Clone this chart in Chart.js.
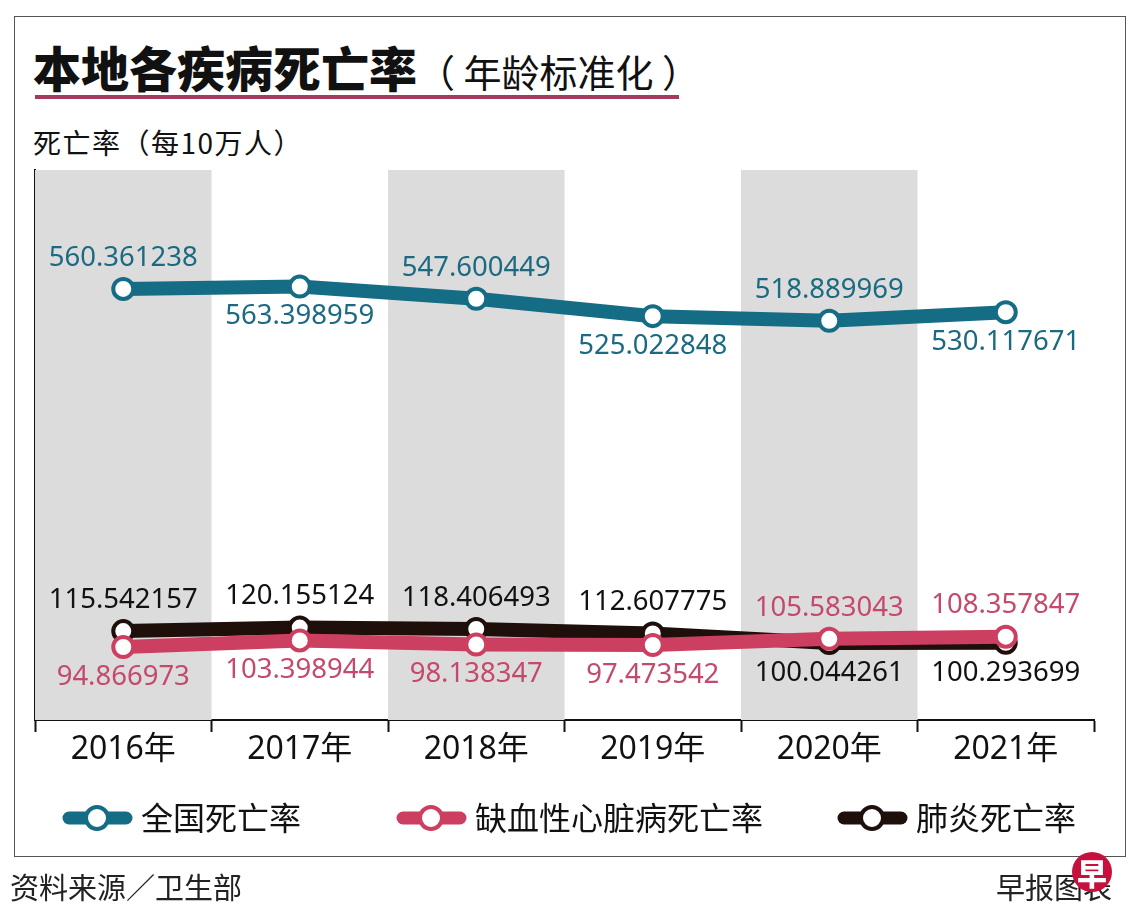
<!DOCTYPE html>
<html>
<head>
<meta charset="utf-8">
<script src="https://cdn.jsdelivr.net/npm/chart.js@4"></script>
<style>
  body { margin: 0; background: #fff; width: 1140px; height: 924px; position: relative; overflow: hidden; font-family: "Noto Sans CJK SC", "Noto Sans", sans-serif; }
  #caixa { position: absolute; left: 14px; top: 16px; width: 1110px; height: 839px; border: 1.5px solid #555; }
  #titulo { position: absolute; left: 33px; top: 31px; white-space: nowrap; color: #111; }
  #titulo b { font-size: 48px; font-weight: 900; }
  #titulo span { font-size: 38px; }
  #linha { position: absolute; left: 35px; top: 95px; width: 644px; height: 4px; background: #a63a5e; }
  #eixo { position: absolute; left: 33px; top: 122px; font-size: 28px; color: #111; white-space: nowrap; letter-spacing: 1.5px; }
  #fonte { position: absolute; left: 10px; top: 865px; font-size: 29px; color: #222; }
  #credito { position: absolute; right: 28px; top: 865px; font-size: 29px; color: #222; }
  #logo { position: absolute; left: 1072px; top: 852px; width: 40px; height: 40px; border-radius: 50%; background: #c8103e; color: #fff; font-size: 30px; font-weight: 900; text-align: center; line-height: 40px; }
  canvas { position: absolute; left: 0; top: 0; }
</style>
</head>
<body>
<div id="caixa"></div>
<div id="titulo"><b>本地各疾病死亡率</b><span>（ 年龄标准化 ）</span></div>
<div id="linha"></div>
<div id="eixo">死亡率（每10万人）</div>
<canvas id="grafico1" width="1140" height="924" style="width:1140px;height:924px"></canvas>
<div id="fonte">资料来源／卫生部</div>
<div id="credito">早报图表</div>
<div id="logo">早</div>

<script>
// dados
var anos = ['2016年', '2017年', '2018年', '2019年', '2020年', '2021年'];
var todasCausas = [560.361238, 563.398959, 547.600449, 525.022848, 518.889969, 530.117671];
var cardiaca = [94.866973, 103.398944, 98.138347, 97.473542, 105.583043, 108.357847];
var pneumonia = [115.542157, 120.155124, 118.406493, 112.607775, 100.044261, 100.293699];
var nomesSeries = ['全国死亡率', '缺血性心脏病死亡率', '肺炎死亡率'];

var corTeal = '#156c85';
var corVermelho = '#cd3f60';
var corPreto = '#1e0f0b';
var corTextoVermelho = '#c44a6c';
var corTextoTeal = '#1b6a81';

const faixasCinza = {
    id: 'faixasCinza',
    beforeDatasetsDraw(chart) {
        const { ctx, chartArea, scales } = chart;
        const largura = scales.x.getPixelForValue(1) - scales.x.getPixelForValue(0);
        ctx.save();
        ctx.fillStyle = '#dcdcdc';
        for (let i = 0; i < anos.length; i += 2) {
            const cx = scales.x.getPixelForValue(i);
            ctx.fillRect(cx - largura / 2, chartArea.top, largura, chartArea.bottom - chartArea.top);
        }
        ctx.restore();
    }
};

const rotulos = {
    id: 'rotulos',
    afterDatasetsDraw(chart) {
        const { ctx } = chart;
        ctx.save();
        ctx.font = '27.5px "Noto Sans", sans-serif';
        ctx.textAlign = 'center';
        ctx.textBaseline = 'middle';
        chart.data.datasets.forEach((ds, d) => {
            const meta = chart.getDatasetMeta(d);
            meta.data.forEach((pt, i) => {
                let acima;
                if (d == 0) {
                    acima = (i % 2 == 0);
                } else {
                    const outro = d == 1 ? pneumonia[i] : cardiaca[i];
                    acima = ds.data[i] > outro;
                }
                ctx.fillStyle = ds.corTexto;
                const y = acima ? pt.y - 31 : pt.y + 30;
                ctx.fillText(ds.data[i].toFixed(6), pt.x, y);
            });
        });
        ctx.restore();
    }
};

const legenda = {
    id: 'legenda',
    afterDraw(chart) {
        const { ctx } = chart;
        const posX = [63, 397, 838];
        const y = 818;
        ctx.save();
        chart.data.datasets.forEach((ds, d) => {
            const x0 = posX[d];
            ctx.strokeStyle = ds.borderColor;
            ctx.lineWidth = 13;
            ctx.lineCap = 'round';
            ctx.beginPath();
            ctx.moveTo(x0 + 6, y);
            ctx.lineTo(x0 + 63, y);
            ctx.stroke();
            ctx.beginPath();
            ctx.arc(x0 + 34, y, 11, 0, Math.PI * 2);
            ctx.fillStyle = '#fff';
            ctx.fill();
            ctx.lineWidth = 4;
            ctx.stroke();
            ctx.fillStyle = '#111';
            ctx.font = '32px "Noto Sans CJK SC", sans-serif';
            ctx.textAlign = 'left';
            ctx.textBaseline = 'middle';
            ctx.fillText(ds.label, x0 + 78, y);
        });
        ctx.restore();
    }
};

function graficoMortalidade() {
    const ctx = document.getElementById('grafico1');

    const estiloLinha = (cor, corTexto) => ({
        borderColor: cor,
        backgroundColor: '#fff',
        corTexto: corTexto,
        borderWidth: 14,
        pointRadius: 10,
        pointBorderWidth: 4,
        pointBackgroundColor: '#fff',
        pointBorderColor: cor,
        tension: 0,
        fill: false
    });

    new Chart(ctx, {
        type: 'line',
        data: {
            labels: anos,
            datasets: [
                Object.assign({ label: nomesSeries[0], data: todasCausas }, estiloLinha(corTeal, corTextoTeal)),
                Object.assign({ label: nomesSeries[1], data: cardiaca }, estiloLinha(corVermelho, corTextoVermelho)),
                Object.assign({ label: nomesSeries[2], data: pneumonia }, estiloLinha(corPreto, '#111'))
            ]
        },
        options: {
            responsive: false,
            animation: false,
            layout: {
                padding: { left: 35, right: 46, top: 170, bottom: 144 }
            },
            plugins: {
                legend: { display: false },
                tooltip: { enabled: false },
                title: { display: false }
            },
            scales: {
                x: {
                    offset: true,
                    afterFit: (s) => { s.height = 60; },
                    grid: {
                        offset: true,
                        drawOnChartArea: false,
                        drawTicks: true,
                        tickLength: 12,
                        tickColor: '#111',
                        tickWidth: 2,
                        color: '#111'
                    },
                    border: { display: true, color: '#111', width: 2 },
                    ticks: {
                        color: '#111',
                        padding: -1,
                        font: { family: '"Noto Sans", "Noto Sans CJK SC", sans-serif', size: 32 }
                    }
                },
                y: {
                    min: 0,
                    max: 715,
                    afterFit: (s) => { s.width = 0; },
                    grid: { display: false },
                    border: { display: true, color: '#111', width: 2 },
                    ticks: { display: false }
                }
            }
        },
        plugins: [faixasCinza, rotulos, legenda]
    });
}

graficoMortalidade();
</script>
</body>
</html>
